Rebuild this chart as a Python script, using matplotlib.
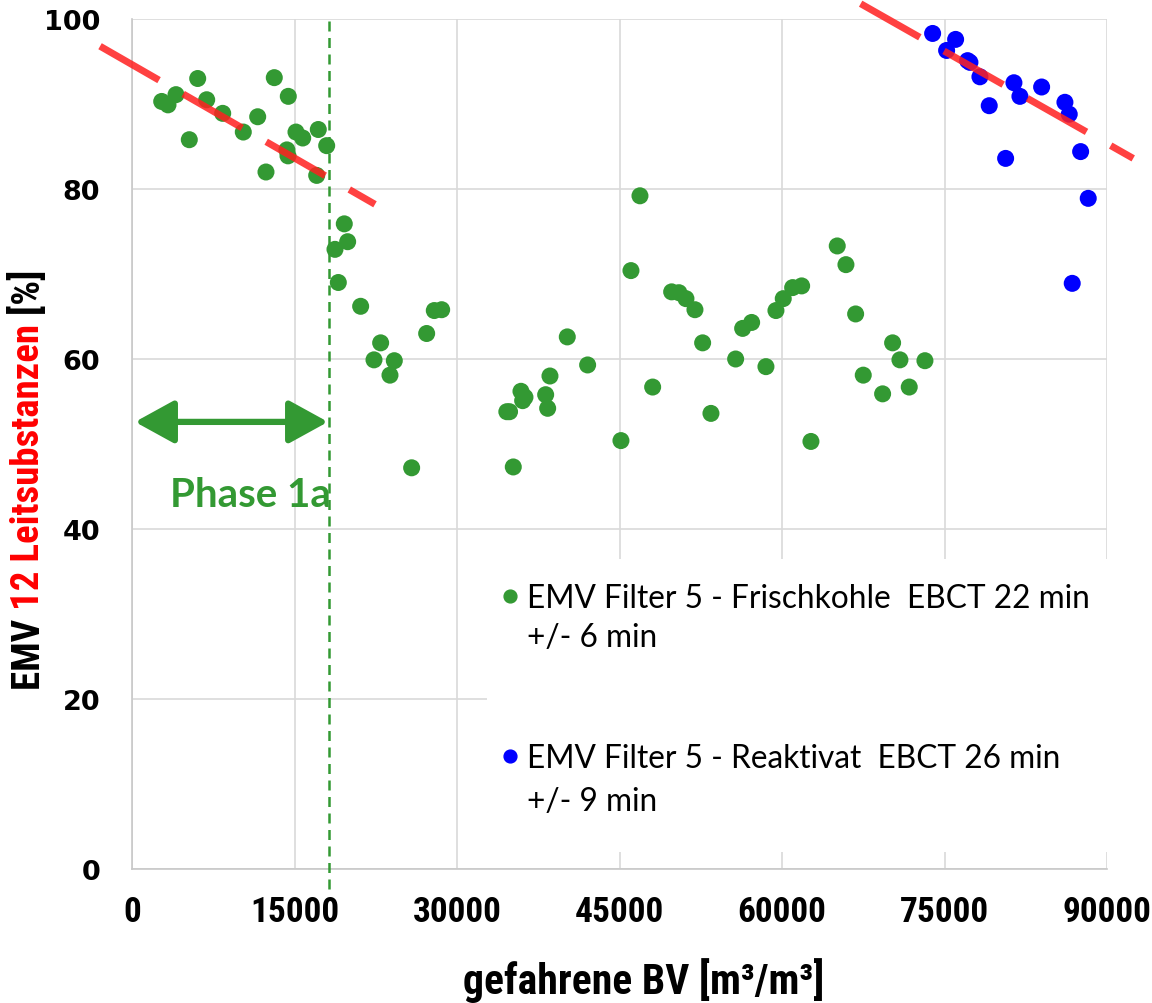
import matplotlib
matplotlib.use("Agg")
import matplotlib.pyplot as plt
from matplotlib.patches import Rectangle

# ---------------- data ----------------
green_x = [2741, 3323, 4061, 6064, 6895, 8372, 5289, 10273, 11602, 13134, 14427, 12368,
           14300, 14400, 15137, 15756, 17196, 17971, 17048, 19595, 19906, 18737, 19045,
           21106, 22952, 22337, 24213, 23813, 25813, 27199, 27903, 28584, 34600, 34850,
           35905, 36274, 36060, 38184, 38369, 38581, 40180, 42058, 35195, 45134, 46058,
           46889, 48060, 49814, 50488, 51134, 51965, 52674, 53442, 55721, 56367, 57197,
           58518, 59441, 60115, 60983, 61813, 62672, 65099, 65902, 66797, 67500, 69287,
           70210, 70886, 71745, 73194]
green_y = [90.3, 89.9, 91.1, 93.0, 90.5, 88.9, 85.8, 86.7, 88.5, 93.1, 90.9, 82.0,
           84.6, 83.9, 86.7, 86.0, 87.0, 85.1, 81.6, 75.9, 73.8, 72.9, 69.0,
           66.2, 61.9, 59.9, 59.8, 58.1, 47.2, 63.0, 65.7, 65.8, 53.8, 53.8,
           56.2, 55.5, 55.1, 55.8, 54.2, 58.0, 62.6, 59.3, 47.3, 50.4, 70.4,
           79.2, 56.7, 67.9, 67.8, 67.1, 65.8, 61.9, 53.6, 60.0, 63.6, 64.3,
           59.1, 65.7, 67.1, 68.4, 68.6, 50.3, 73.3, 71.1, 65.3, 58.1, 55.9,
           61.9, 59.9, 56.7, 59.8]

blue_x = [73903, 76026, 75195, 77134, 77347, 78270, 79129, 81409, 81962, 83965,
          86116, 86514, 80642, 87566, 88268, 86790]
blue_y = [98.3, 97.6, 96.3, 95.1, 94.9, 93.2, 89.8, 92.5, 90.9, 92.0,
          90.2, 88.8, 83.6, 84.4, 78.9, 68.9]

trend1_x = [-2950, 22430]
trend1_y = [96.8, 78.2]
trend2_x = [67260, 92420]
trend2_y = [101.8, 83.6]

phase_x = 18200
phase_arrow_x = [280, 18090]
phase_arrow_y = 52.6

label_green = "EMV Filter 5 - Frischkohle  EBCT 22 min"
label_green2 = "+/- 6 min"
label_blue = "EMV Filter 5 - Reaktivat  EBCT 26 min"
label_blue2 = "+/- 9 min"

xticks = [0, 15000, 30000, 45000, 60000, 75000, 90000]
yticks = [0, 20, 40, 60, 80, 100]

GREEN = "#339933"
BLUE = "#0000ff"
RED = "#ff2020"
GRID = "#d9d9d9"
NARROW = ["Roboto Condensed", "DejaVu Sans"]

# ---------------- figure ----------------
fig = plt.figure(figsize=(11.52, 10.04), dpi=100)
ax = fig.add_axes([132/1152, 1-870/1004, (1107-132)/1152, (870-20)/1004])

ax.set_xlim(0, 90000)
ax.set_ylim(0, 100)
ax.set_xticks(xticks)
ax.set_yticks(yticks)
ax.set_xticklabels([str(t) for t in xticks], family=NARROW, fontstretch="condensed",
                   fontweight="bold", fontsize=25.5)
ax.set_yticklabels([str(t) for t in yticks], family="DejaVu Sans", fontweight="bold", fontsize=19.5)
ax.tick_params(axis="both", length=0)
ax.tick_params(axis="x", pad=19)
ax.tick_params(axis="y", pad=23)

ax.grid(True, color=GRID, lw=1.2, zorder=0)
ax.set_axisbelow(True)
for s in ["top", "right"]:
    ax.spines[s].set_visible(False)
for s in ["left", "bottom"]:
    ax.spines[s].set_color("#c8c8c8")
    ax.spines[s].set_linewidth(1.2)

# points
ax.scatter(green_x, green_y, s=150, color=GREEN, edgecolors="none", zorder=3, clip_on=False)
ax.scatter(blue_x, blue_y, s=150, color=BLUE, edgecolors="none", zorder=3, clip_on=False)

# trend lines
for tx, ty in [(trend1_x, trend1_y), (trend2_x, trend2_y)]:
    ax.plot(tx, ty, color=RED, alpha=0.85, lw=5, dashes=(9.8, 4),
            dash_capstyle="butt", zorder=5, clip_on=False)

# phase line
ax.plot([phase_x, phase_x], [-2.4, 100], color=GREEN, lw=1.8, dashes=(4, 2.6),
        zorder=4, clip_on=False)

# arrow
ax.annotate("", xy=(phase_arrow_x[0], phase_arrow_y), xytext=(phase_arrow_x[1], phase_arrow_y),
            arrowprops=dict(arrowstyle="<|-|>,head_length=0.4,head_width=0.22",
                            color=GREEN, lw=4.5, mutation_scale=60,
                            shrinkA=0, shrinkB=0), zorder=4)
ax.text(10900, 44.1, "Phase 1a", color=GREEN, fontsize=29, fontweight="bold",
        family="Lato", ha="center", va="center", zorder=4)

# legend (manual)
ax.add_patch(Rectangle((0.364, 0.02), 0.636, 0.345, transform=ax.transAxes,
                       facecolor="white", edgecolor="none", zorder=2))
ax.scatter([0.388], [0.321], s=85, color=GREEN, transform=ax.transAxes, zorder=3, clip_on=False)
ax.scatter([0.388], [0.133], s=85, color=BLUE, transform=ax.transAxes, zorder=3, clip_on=False)
for y, t in [(0.319, label_green), (0.273, label_green2), (0.131, label_blue), (0.080, label_blue2)]:
    ax.text(0.405, y, t, transform=ax.transAxes, fontsize=22.8, family="Lato",
            ha="left", va="center", zorder=3)

# axis titles
fig.text(644/1152, 1-981/1004, "gefahrene BV [m³/m³]", family=NARROW, fontstretch="condensed",
         fontweight="bold", fontsize=30, ha="center", va="center")

t1 = fig.text(29/1152, 1-690/1004, "EMV ", family=NARROW, fontstretch="condensed",
              fontweight="bold", fontsize=28, rotation=90, ha="center", va="bottom", color="black")
t2 = ax.annotate("12 Leitsubstanzen", xy=(0.5, 1), xycoords=t1, family=NARROW,
                 fontstretch="condensed", fontweight="bold",
                 fontsize=28, rotation=90, ha="center", va="bottom", color="#ff0000")
t3 = ax.annotate(" [%]", xy=(0.5, 1), xycoords=t2, family=NARROW, fontstretch="condensed",
                 fontweight="bold", fontsize=28, rotation=90, ha="center", va="bottom", color="black")

fig.savefig("out.png", dpi=100)
